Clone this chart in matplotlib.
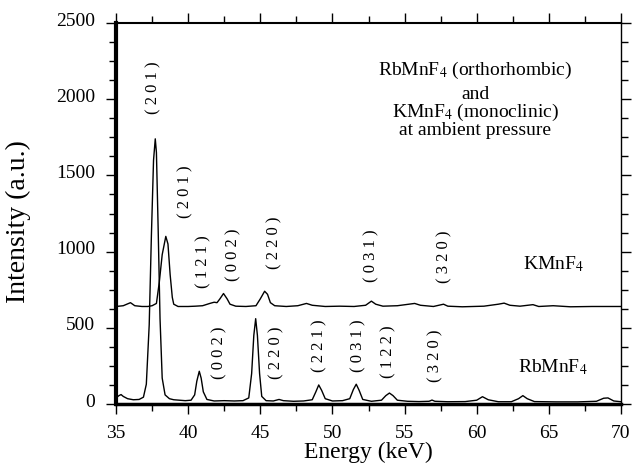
import matplotlib
matplotlib.use("Agg")
import matplotlib.pyplot as plt
import matplotlib.transforms as mtransforms
from matplotlib.ticker import MultipleLocator

plt.rcParams['font.family'] = ['Liberation Serif', 'DejaVu Serif']
plt.rcParams['mathtext.fontset'] = 'stix'

# RbMnF4 spectrum (energy keV, intensity a.u.)
rb_energy = [35.0, 35.2, 35.35, 35.5, 35.8, 36.2, 36.6, 36.9, 37.1, 37.3,
             37.45, 37.6, 37.72, 37.8, 37.92, 38.05, 38.2, 38.4, 38.7, 39.0,
             39.4, 39.8, 40.2, 40.45, 40.6, 40.77, 40.9, 41.05, 41.3, 41.8,
             42.5, 43.2, 43.8, 44.2, 44.4, 44.55, 44.68, 44.8, 44.95, 45.1,
             45.4, 45.9, 46.3, 46.6, 47.3, 48.0, 48.6, 48.85, 49.05, 49.25,
             49.5, 50.0, 50.7, 51.2, 51.45, 51.65, 51.85, 52.1, 52.7, 53.4,
             53.7, 53.95, 54.2, 54.5, 55.2, 56.0, 56.7, 56.9, 57.1, 58.0,
             59.2, 60.0, 60.4, 60.8, 61.5, 62.4, 62.9, 63.2, 63.5, 64.0,
             65.5, 67.0, 68.3, 68.8, 69.1, 69.5, 70.0]
rb_counts = [40, 55, 62, 50, 35, 28, 30, 45, 130, 520,
             1100, 1600, 1740, 1650, 1150, 560, 170, 60, 35, 28,
             25, 22, 25, 60, 150, 215, 170, 80, 30, 20,
             22, 20, 22, 40, 200, 450, 560, 450, 200, 50,
             22, 20, 30, 22, 18, 20, 28, 80, 125, 90,
             35, 20, 22, 35, 95, 130, 90, 30, 18, 25,
             55, 72, 55, 25, 18, 16, 18, 26, 18, 15,
             16, 25, 48, 28, 15, 15, 35, 55, 35, 16,
             14, 14, 18, 38, 40, 20, 15]

# KMnF4 spectrum
k_energy = [35.0, 35.5, 36.0, 36.3, 36.8, 37.2, 37.5, 37.8, 38.0, 38.2,
            38.45, 38.6, 38.75, 38.9, 39.0, 39.3, 40.0, 40.5, 41.0, 41.5,
            41.8, 42.0, 42.2, 42.45, 42.7, 42.9, 43.3, 44.0, 44.7, 45.0,
            45.3, 45.5, 45.7, 46.0, 46.8, 47.6, 48.2, 48.6, 49.5, 50.5,
            51.5, 52.3, 52.7, 53.0, 53.5, 54.5, 55.3, 55.7, 56.1, 57.0,
            57.7, 58.0, 59.0, 60.5, 61.5, 61.9, 62.3, 63.0, 63.9, 64.3,
            65.3, 66.5, 68.0, 70.0]
k_counts = [640, 645, 665, 645, 640, 640, 645, 660, 800, 980,
            1100, 1050, 850, 700, 655, 640, 640, 642, 645, 660,
            668, 665, 690, 725, 690, 655, 642, 640, 645, 690,
            740, 720, 665, 645, 640, 645, 660, 648, 640, 642,
            640, 648, 675, 655, 642, 645, 655, 660, 648, 640,
            655, 642, 638, 642, 655, 662, 648, 642, 652, 640,
            645, 638, 640, 640]

# Miller index labels (energy, intensity of label centre)
k_hkl = ['( 2 0 1 )', '( 2 0 1 )', '( 1 2 1 )', '( 0 0 2 )', '( 2 2 0 )',
         '( 0 3 1 )', '( 3 2 0 )']
k_hkl_e = [37.6, 39.8, 41.05, 43.15, 46.0, 52.72, 57.73]
k_hkl_i = [2073, 1395, 935, 980, 1060, 974, 967]

rb_hkl = ['( 0 0 2 )', '( 2 2 0 )', '( 2 2 1 )', '( 0 3 1 )', '( 1 2 2 )',
          '( 3 2 0 )']
rb_hkl_e = [42.15, 46.15, 49.12, 51.77, 53.9, 57.15]
rb_hkl_i = [335, 335, 380, 380, 346, 314]

fig = plt.figure(figsize=(6.33, 4.66), dpi=100)
ax = fig.add_axes([0.1833, 0.133, 0.7977, 0.8176])

ax.plot(rb_energy, rb_counts, color='black', lw=1.0)
ax.plot(k_energy, k_counts, color='black', lw=1.0)

for s, e, i in zip(k_hkl, k_hkl_e, k_hkl_i):
    ax.text(e, i, s, rotation=90, ha='center', va='center', fontsize=12)
for s, e, i in zip(rb_hkl, rb_hkl_e, rb_hkl_i):
    ax.text(e, i, s, rotation=90, ha='center', va='center', fontsize=12)

ax.text(59.9, 2187, 'RbMnF$_4$ (orthorhombic)', ha='center', va='center', fontsize=14)
ax.text(59.9, 2029, 'and', ha='center', va='center', fontsize=14)
ax.text(59.9, 1915, 'KMnF$_4$ (monoclinic)', ha='center', va='center', fontsize=14)
ax.text(59.9, 1792, 'at ambient pressure', ha='center', va='center', fontsize=14)

ax.text(63.2, 921, 'KMnF$_4$', ha='left', va='center', fontsize=14)
ax.text(62.85, 243, 'RbMnF$_4$', ha='left', va='center', fontsize=14)

ax.set_xlim(35, 70)
ax.set_ylim(0, 2500)
ax.xaxis.set_major_locator(MultipleLocator(5))
ax.xaxis.set_minor_locator(MultipleLocator(2.5))
ax.yaxis.set_major_locator(MultipleLocator(500))
ax.yaxis.set_minor_locator(MultipleLocator(125))

ax.tick_params(which='both', direction='out', top=True, right=True,
               labelsize=14, width=1.0)
ax.tick_params(which='major', length=7, pad=8)
ax.tick_params(which='minor', length=5)

for side, w in [('left', 3.0), ('bottom', 2.5), ('top', 1.5), ('right', 1.0)]:
    ax.spines[side].set_linewidth(w)

off = mtransforms.ScaledTranslation(0, 4 / 100, fig.dpi_scale_trans)
for lab in ax.get_yticklabels():
    lab.set_transform(lab.get_transform() + off)

ax.set_xlabel('Energy (keV)', fontsize=17, labelpad=0)
ax.set_ylabel('Intensity (a.u.)', fontsize=20)
ax.yaxis.set_label_coords(-0.168, 0.48)

fig.savefig('out.png', dpi=100)
